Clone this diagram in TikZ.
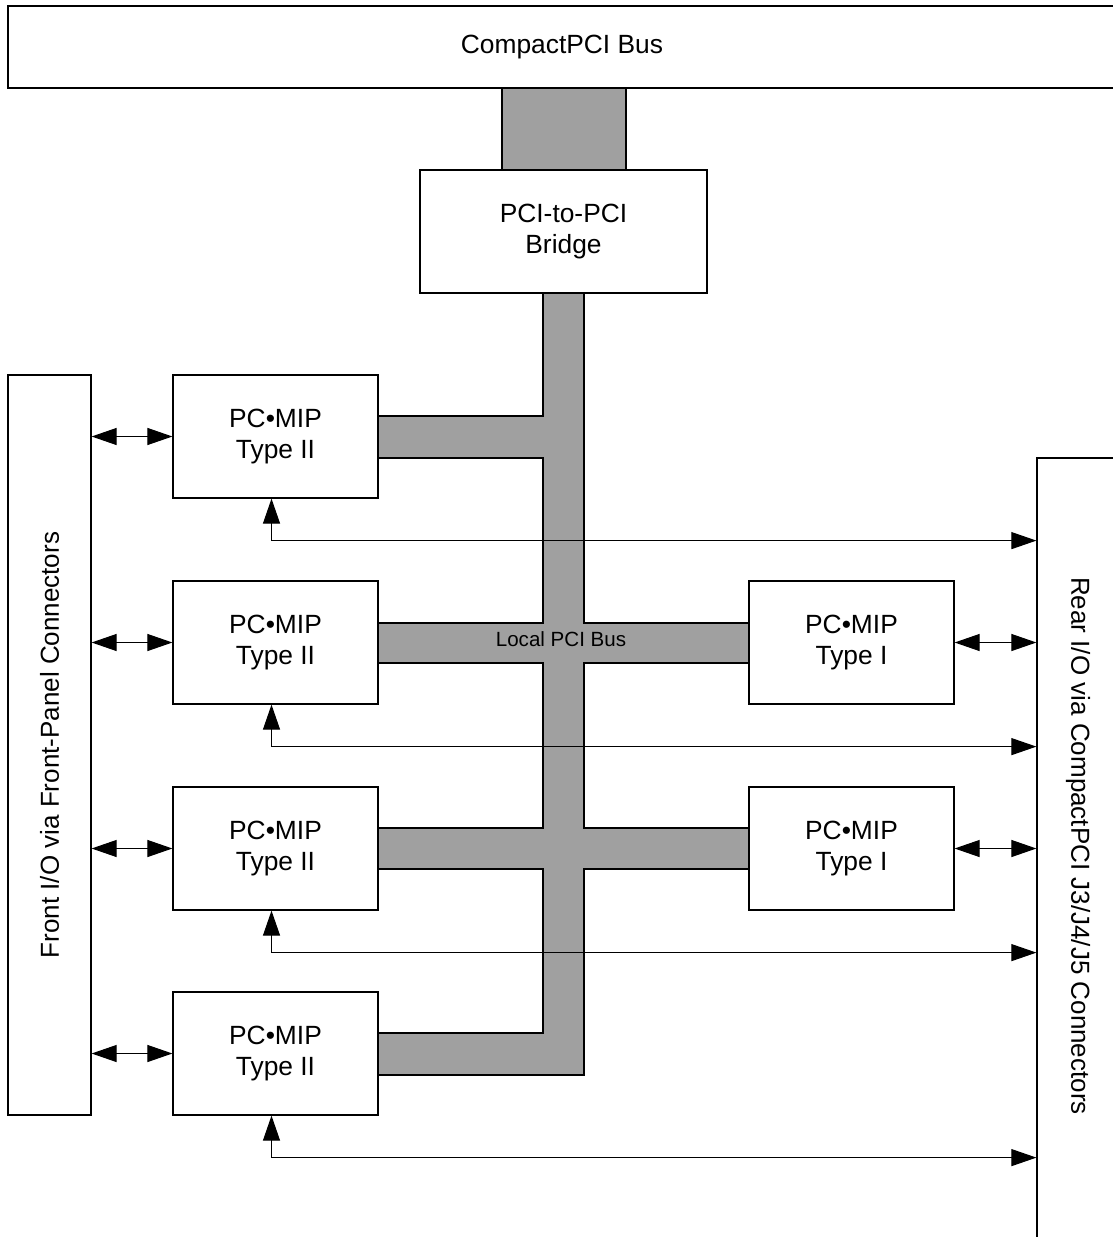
\documentclass[tikz,border=0pt]{standalone}
\usepackage{fontspec}
\setmainfont{Liberation Sans}
\usetikzlibrary{calc,positioning,arrows.meta}
\definecolor{busgray}{RGB}{160,160,160}

\begin{document}
\begin{tikzpicture}[x=0.02cm,y=-0.02cm,
    block/.style={rectangle,draw=black,line width=0.7pt,fill=white,align=center,inner sep=0pt,
      font=\fontsize{15}{18}\selectfont},
    io/.style={<->,>={Triangle[length=0.5cm,width=0.34cm]},line width=0.6pt}]

  \useasboundingbox (0,0) rectangle (1112,1237);

  %% busses
  \filldraw[fill=busgray,draw=black,line width=0.6pt] (502,87) rectangle (626,170);
  \filldraw[fill=busgray,draw=black,line width=0.6pt]
    (543,293) -- (584,293) -- (584,623) -- (749,623) -- (749,663) -- (584,663)
    -- (584,828) -- (749,828) -- (749,869) -- (584,869) -- (584,1075) -- (378,1075)
    -- (378,1033) -- (543,1033) -- (543,869) -- (378,869) -- (378,828) -- (543,828)
    -- (543,663) -- (378,663) -- (378,623) -- (543,623) -- (543,458) -- (378,458)
    -- (378,416) -- (543,416) -- cycle;
  \node (localbus) [font=\fontsize{11.7}{14}\selectfont] at(561,639) {Local PCI Bus};

  \node (cpcibus) [block,minimum width=22.16cm,minimum height=1.64cm] at(562,47) {CompactPCI Bus};
  \node (bridge) [block,minimum width=5.74cm,minimum height=2.46cm] at(563.5,231.5) {PCI-to-PCI\\Bridge};

  \node (front) [block,minimum width=1.66cm,minimum height=14.8cm] at(49.5,745) {};
  \node [rotate=90,font=\fontsize{14.8}{18}\selectfont] at(front.center) {Front I/O via Front-Panel Connectors};
  \node (rear) [block,minimum width=1.6cm,minimum height=15.64cm] at(1077,849) {};
  \node [rotate=-90,font=\fontsize{14.8}{18}\selectfont] at(1078,846) {Rear I/O via CompactPCI J3/J4/J5 Connectors};

  \foreach \i/\y in {1/436.5,2/642.5,3/848.5,4/1053.5}
           {
             \node (mip_\i) [block,minimum width=4.1cm,minimum height=2.46cm] at(275.5,\y) {PC•MIP\\Type II};
             \draw[io] (front.east |- mip_\i.west) -- (mip_\i.west);

             \coordinate (turn_\i) at($(mip_\i.south)+(-4,42)$);
             \draw[io] (mip_\i.south -| turn_\i) -- (turn_\i) -- (turn_\i -| rear.west);
           }

  \foreach \i/\y in {2/642.5,3/848.5}
           {
             \node (mipone_\i) [block,minimum width=4.1cm,minimum height=2.46cm] at(851.5,\y) {PC•MIP\\Type I};
             \draw[io] (mipone_\i.east) -- (rear.west |- mipone_\i.east);
           }

\end{tikzpicture}
\end{document}
